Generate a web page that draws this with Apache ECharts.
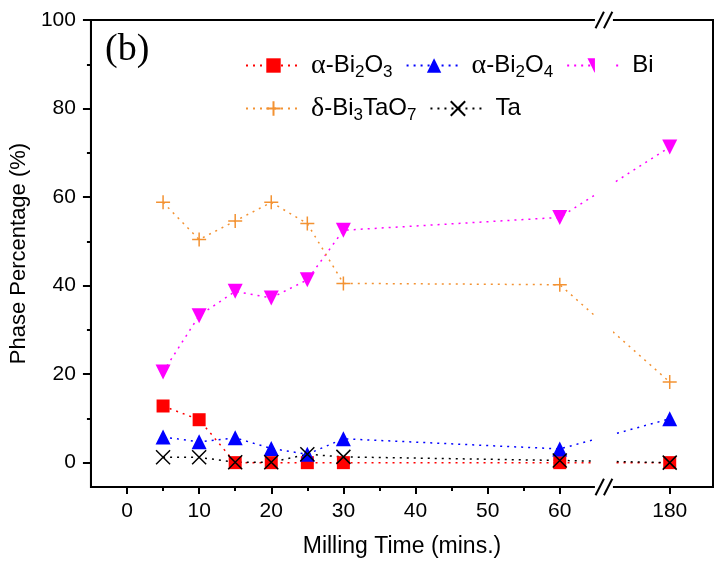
<!DOCTYPE html>
<html>
<head>
<meta charset="utf-8">
<script src="https://cdn.jsdelivr.net/npm/echarts@6/dist/echarts.min.js"></script>
<style>
html, body { margin: 0; padding: 0; background: #fff; }
#main { width: 723px; height: 567px; }
</style>
</head>
<body>
<div id="main"></div>
<script>
// milling time (mins.) and phase percentages (%)
const times = [5, 10, 15, 20, 25, 30, 60, 180];
const bi2o3 = [12.8, 9.7, 0, 0, 0, 0, 0, 0];
const bi2o4 = [5.8, 4.7, 5.6, 3.2, 1.9, 5.4, 3.1, 9.9];
const bi = [20.5, 33.2, 38.7, 37.2, 41.3, 52.5, 55.4, 71.3];
const bi3tao7 = [58.8, 50.4, 54.6, 58.8, 54.0, 40.5, 40.2, 18.2];
const ta = [1.2, 1.2, 0.1, 0.1, 1.9, 1.3, 0.5, 0];

const xTicks = [0, 10, 20, 30, 40, 50, 60, 180];
const xMinor = [5, 15, 25, 35, 45, 55];
const yTicks = [0, 20, 40, 60, 80, 100];
const yMinor = [10, 30, 50, 70, 90];

const names = ['a-Bi2O3', 'a-Bi2O4', 'Bi', 'd-Bi3TaO7', 'Ta'];
const legendText = {
    'a-Bi2O3': '{sp|}{g|α}{t|-Bi}{s|2}{t|O}{s|3}',
    'a-Bi2O4': '{sp|}{g|α}{t|-Bi}{s|2}{t|O}{s|4}',
    'Bi': '{sp|}{t|Bi}',
    'd-Bi3TaO7': '{sp|}{g|δ}{t|-Bi}{s|3}{t|TaO}{s|7}',
    'Ta': '{sp|}{t|Ta}'
};

const FONT = '"Liberation Sans", Arial, sans-serif';
const breakStart = 65, breakEnd = 172;

let chart = echarts.init(document.getElementById('main'));

function pairs(arr) {
    return times.map((t, i) => [t, arr[i]]);
}

function lineSeries(name, arr, color, symbol, size, extra) {
    let s = {
        name: name,
        type: 'line',
        data: pairs(arr),
        symbol: symbol,
        symbolSize: size,
        lineStyle: { color: color, width: 1.5, type: [2, 5] },
        itemStyle: { color: color },
        emphasis: { disabled: true },
        animation: false
    };
    return Object.assign(s, extra || {});
}

const legendBase = {
    left: 245,
    padding: 0,
    itemWidth: 55,
    itemHeight: 18,
    itemGap: 13,
    selectedMode: false,
    formatter: n => legendText[n],
    textStyle: {
        rich: {
            sp: { width: 5 },
            t: { fontSize: 24, fontFamily: FONT, color: '#000', lineHeight: 30 },
            g: { fontSize: 28, fontFamily: '"Liberation Serif", serif', color: '#000', lineHeight: 30 },
            s: { fontSize: 17, fontFamily: FONT, color: '#000', lineHeight: 16, padding: [14, 0, 0, 0] }
        }
    }
};

const xBase = {
    type: 'value',
    min: -5,
    max: 186,
    breaks: [{ start: breakStart, end: breakEnd, gap: '2.6%' }],
    breakArea: { show: false },
    splitLine: { show: false }
};
const yBase = {
    type: 'value',
    min: -5.5,
    max: 100,
    splitLine: { show: false }
};

let option = {
    backgroundColor: '#fff',
    animation: false,
    grid: {
        left: 88, right: 10, top: 20, bottom: 80,
        show: true, borderColor: '#000', borderWidth: 2
    },
    legend: [
        Object.assign({}, legendBase, { top: 50, data: names.slice(0, 3) }),
        Object.assign({}, legendBase, { top: 93, data: names.slice(3) })
    ],
    xAxis: [
        Object.assign({}, xBase, {
            position: 'bottom',
            name: 'Milling Time (mins.)',
            nameLocation: 'middle',
            nameGap: 48,
            nameTextStyle: { fontSize: 23, fontFamily: FONT, color: '#000' },
            axisLine: { show: true, onZero: false, lineStyle: { color: '#000', width: 2 } },
            axisTick: { show: true, length: 7, lineStyle: { color: '#000', width: 2 }, customValues: xTicks },
            axisLabel: { fontSize: 21, fontFamily: FONT, color: '#000', margin: 14, customValues: xTicks }
        }),
        Object.assign({}, xBase, {
            position: 'bottom',
            axisLine: { show: false, onZero: false },
            axisTick: { show: true, length: 4, lineStyle: { color: '#000', width: 2 }, customValues: xMinor },
            axisLabel: { show: false }
        })
    ],
    yAxis: [
        Object.assign({}, yBase, {
            position: 'left',
            name: 'Phase Percentage (%)',
            nameLocation: 'middle',
            nameGap: 60,
            nameTextStyle: { fontSize: 22, fontFamily: FONT, color: '#000' },
            axisLine: { show: true, onZero: false, lineStyle: { color: '#000', width: 2 } },
            axisTick: { show: true, length: 8, lineStyle: { color: '#000', width: 2 }, customValues: yTicks },
            axisLabel: { fontSize: 21, fontFamily: FONT, color: '#000', margin: 15, customValues: yTicks }
        }),
        Object.assign({}, yBase, {
            position: 'left',
            axisLine: { show: false, onZero: false },
            axisTick: { show: true, length: 4, lineStyle: { color: '#000', width: 2 }, customValues: yMinor },
            axisLabel: { show: false }
        })
    ],
    series: [
        lineSeries(names[0], bi2o3, '#ff0000', 'rect', 13),
        lineSeries(names[1], bi2o4, '#0000ff', 'triangle', 15),
        lineSeries(names[2], bi, '#ff00ff', 'triangle', 15, { symbolRotate: 180 }),
        lineSeries(names[3], bi3tao7, '#f39232', 'path://M5,0L5,10M0,5L10,5', 14, {
            itemStyle: { color: 'rgba(0,0,0,0)', borderColor: '#f39232', borderWidth: 1.5 }
        }),
        lineSeries(names[4], ta, '#000000', 'path://M0,0L10,10M10,0L0,10', 14, {
            itemStyle: { color: 'rgba(0,0,0,0)', borderColor: '#000', borderWidth: 1.5 }
        })
    ]
};
chart.setOption(option);

// "(b)" tag and the // marks at the axis break
let a = chart.convertToPixel({ xAxisIndex: 0 }, breakStart);
let b = chart.convertToPixel({ xAxisIndex: 0 }, breakEnd);
let mid = (a + b) / 2;
let yTop = chart.convertToPixel({ yAxisIndex: 0 }, 100);
let yBot = chart.convertToPixel({ yAxisIndex: 0 }, -5.5);

let marks = [];
[yTop, yBot].forEach(y => {
    [-4.2, 4.2].forEach(dx => {
        marks.push({
            type: 'line', z: 200,
            shape: { x1: mid + dx - 4.2, y1: y + 8.3, x2: mid + dx + 4.2, y2: y - 8.3 },
            style: { stroke: '#000', lineWidth: 2 }
        });
    });
});

chart.setOption({
    graphic: [
        {
            type: 'rect', z: 150,
            shape: { x: mid - 9, y: yTop - 3, width: 18, height: yBot - yTop + 6 },
            style: { fill: '#fff' }
        },
        {
            type: 'text', left: 105, top: 31, z: 150,
            style: { text: '(b)', font: '38px "Liberation Serif", serif', fill: '#000' }
        }
    ].concat(marks)
});
</script>
</body>
</html>
